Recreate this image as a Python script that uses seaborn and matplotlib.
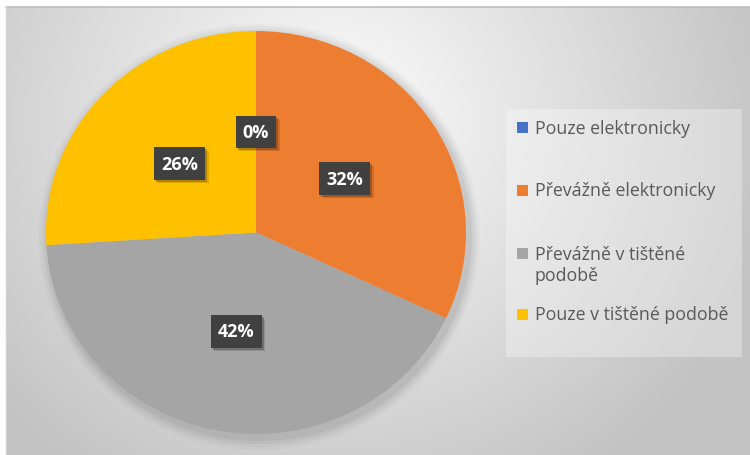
import numpy as np
import matplotlib
matplotlib.use("Agg")
import matplotlib.pyplot as plt
from matplotlib.patches import Rectangle, Ellipse
import seaborn as sns

# Survey answers: how the publication is read
categories = ["Pouze elektronicky", "Převážně elektronicky",
              "Převážně v tištěné\npodobě", "Pouze v tištěné podobě"]
shares = [0, 32, 42, 26]
colors = sns.color_palette(["#4472C4", "#ED7D31", "#A5A5A5", "#FFC000"])

sns.set_theme(style="white")
plt.rcParams["font.family"] = ["Open Sans", "DejaVu Sans"]

W, H = 750, 456
fig = plt.figure(figsize=(W / 100, H / 100), dpi=100)
fig.patch.set_facecolor("white")

# chart area with a soft radial gradient background
x0, y0 = 6, 8
bw, bh = W - x0, H - y0
bg = fig.add_axes([x0 / W, 0, bw / W, bh / H])
yy, xx = np.mgrid[0:bh, 0:bw]
cx, cy = 335 - x0, 120 - y0
r = np.hypot(xx - cx, (yy - cy) / 0.95)
shade = 253 - 58 * np.clip(r / 450, 0, 1)
img = np.dstack([shade, shade, shade]) / 255.0
bg.imshow(img, extent=(0, bw, bh, 0), aspect="auto", interpolation="bilinear")
bg.set_xlim(0, bw)
bg.set_ylim(bh, 0)
bg.axis("off")
# thin border of the chart area (top and left edges)
fig.add_artist(plt.Line2D([x0 / W, 1], [1 - y0 / H, 1 - y0 / H],
                          color="#bdbdbd", lw=1.2))
fig.add_artist(plt.Line2D([x0 / W, x0 / W], [0, 1 - y0 / H],
                          color="#d0d0d0", lw=1.0))

# pie axes: left 46, right 466, top 32, bottom 435 (pixels)
pl, pr, pt, pb = 46, 466, 32, 435
ax = fig.add_axes([pl / W, (H - pb) / H, (pr - pl) / W, (pb - pt) / H])
ax.patch.set_alpha(0)

# soft shadow beneath the pie
for k, a in enumerate([0.05, 0.04, 0.03, 0.02]):
    ax.add_patch(Ellipse((0.015, -0.02), 2 + 0.025 * (k + 1),
                         2 + 0.03 * (k + 1), color="black",
                         alpha=a, lw=0, zorder=0, clip_on=False))

wedges, texts, autotexts = ax.pie(
    shares, colors=colors, startangle=90, counterclock=False,
    autopct=lambda p: f"{p:.0f}%", pctdistance=0.5,
    wedgeprops=dict(linewidth=0),
    textprops=dict(color="white", fontsize=13, fontweight="bold"),
)
ax.set_aspect("auto")
ax.set_xlim(-1, 1)
ax.set_ylim(-1, 1)
ax.axis("off")

for t in autotexts:
    t.set_bbox(dict(boxstyle="square,pad=0.4", fc="#404040", ec="none"))
    t.set_zorder(5)

# drop shadows for the value boxes, sized from the drawn boxes
fig.canvas.draw()
inv = ax.transData.inverted()
for t in autotexts:
    ext = t.get_bbox_patch().get_window_extent()
    for d, a in [(2.0, 0.22), (3.5, 0.12)]:
        (ax0, ay0), (ax1, ay1) = inv.transform([(ext.x0 + d, ext.y0 - d),
                                                (ext.x1 + d, ext.y1 - d)])
        ax.add_patch(Rectangle((ax0, ay0), ax1 - ax0, ay1 - ay0, fc="black",
                               ec="none", alpha=a, zorder=4))

# legend panel
lx0, ly0, lx1, ly1 = 506, 110, 742, 358
fig.add_artist(Rectangle((lx0 / W, 1 - ly1 / H), (lx1 - lx0) / W,
                         (ly1 - ly0) / H, transform=fig.transFigure,
                         fc="white", alpha=0.3, ec="none"))
row_y = [128.5, 191.5, 254.5, 315.5]
for name, col, ry in zip(categories, colors, row_y):
    fig.add_artist(Rectangle((517 / W, 1 - (ry + 5.5) / H), 11 / W, 11 / H,
                             transform=fig.transFigure, fc=col, ec="none"))
    fig.text(535 / W, 1 - (ry - 9) / H, name, ha="left", va="top",
             fontsize=12.8, color="#595959", linespacing=1.25)

fig.savefig("out.png", dpi=100)
